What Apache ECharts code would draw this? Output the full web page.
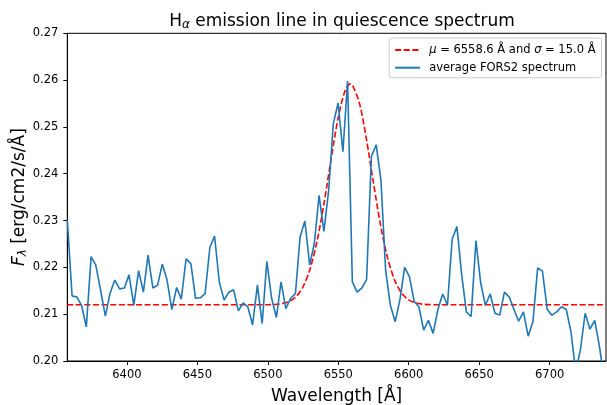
<!DOCTYPE html>
<html><head><meta charset="utf-8">
<script src="https://cdn.jsdelivr.net/npm/echarts@6/dist/echarts.min.js"></script>
<style>html,body{margin:0;padding:0;background:#fff}#c{width:607px;height:405px}</style>
</head><body><div id="c"></div>
<script>
const wavelength = [6357.7,6361.1,6364.4,6367.8,6371.2,6374.6,6377.9,6381.3,6384.7,6388.0,
6391.4,6394.8,6398.2,6401.5,6404.9,6408.3,6411.7,6415.0,6418.4,6421.8,
6425.1,6428.5,6431.9,6435.3,6438.6,6442.0,6445.4,6448.7,6452.1,6455.5,
6458.9,6462.2,6465.6,6469.0,6472.3,6475.7,6479.1,6482.5,6485.8,6489.2,
6492.6,6496.0,6499.3,6502.7,6506.1,6509.4,6512.8,6516.2,6519.6,6522.9,
6526.3,6529.7,6533.0,6536.4,6539.8,6543.2,6546.5,6549.9,6553.3,6556.6,
6560.0,6563.4,6566.8,6570.1,6573.5,6576.9,6580.3,6583.6,6587.0,6590.4,
6593.7,6597.1,6600.5,6603.9,6607.2,6610.6,6614.0,6617.3,6620.7,6624.1,
6627.5,6630.8,6634.2,6637.6,6640.9,6644.3,6647.7,6651.1,6654.4,6657.8,
6661.2,6664.6,6667.9,6671.3,6674.7,6678.0,6681.4,6684.8,6688.2,6691.5,
6694.9,6698.3,6701.6,6705.0,6708.4,6711.8,6715.1,6718.5,6721.9,6725.2,
6728.6,6732.0,6735.4,6738.7];
const fluxFORS2 = [0.2301,0.2139,0.2137,0.2119,0.2073,0.2223,0.2205,0.2152,0.2096,0.2144,
0.2173,0.2154,0.2156,0.2184,0.2119,0.2193,0.2147,0.2226,0.2156,0.2162,
0.2207,0.2173,0.2110,0.2157,0.2132,0.2218,0.2208,0.2134,0.2135,0.2144,
0.2243,0.2267,0.2168,0.2130,0.2147,0.2152,0.2107,0.2124,0.2116,0.2077,
0.2162,0.2080,0.2213,0.2134,0.2093,0.2169,0.2112,0.2134,0.2144,0.2265,
0.2299,0.2205,0.2251,0.2354,0.2277,0.2365,0.2507,0.2551,0.2447,0.2598,
0.2169,0.2147,0.2156,0.2174,0.2437,0.2462,0.2386,0.2194,0.2119,0.2084,
0.2130,0.2200,0.2180,0.2127,0.2116,0.2066,0.2087,0.2059,0.2110,0.2143,
0.2119,0.2260,0.2287,0.2184,0.2105,0.2095,0.2257,0.2166,0.2119,0.2143,
0.2102,0.2098,0.2147,0.2137,0.2110,0.2085,0.2105,0.2053,0.2085,0.2199,
0.2192,0.2110,0.2098,0.2105,0.2116,0.2110,0.2063,0.1977,0.2025,0.2102,
0.2068,0.2087,0.2030,0.1960];
const gaussWave = [6357.7,6490,6500,6505,6510,6515,6520,6525,6530,6535,6540,6545,6550,6555,6558.6,
6560,6565,6570,6575,6580,6585,6590,6595,6600,6605,6610,6615,6620,6630,6740];
const gaussFlux = [0.2120,0.2120,0.21202,0.21208,0.21225,0.21269,0.21372,0.21584,0.21967,0.22569,0.23388,0.24329,0.25204,0.25786,0.2592,
0.25899,0.25510,0.24736,0.23797,0.22906,0.22203,0.21728,0.21449,0.21305,0.21240,0.21213,0.21204,0.21201,0.2120,0.2120];
const xTicks = [6400,6450,6500,6550,6600,6650,6700];
const yTicks = [0.20,0.21,0.22,0.23,0.24,0.25,0.26,0.27];

const FONT = 'DejaVu Sans';
const BIG = 17, SMALL = 11.5;
const chart = echarts.init(document.getElementById('c'), null, {renderer:'canvas'});
chart.setOption({
  animation:false,
  backgroundColor:'#fff',
  title:{
    text:'{h|H}{s|α}{t| emission line in quiescence spectrum}',
    left:337, top:7, textAlign:'center',
    textStyle:{
      fontFamily:FONT, fontWeight:'normal', color:'#000', fontSize:BIG,
      rich:{
        h:{fontFamily:FONT,fontSize:BIG,color:'#000'},
        s:{fontFamily:FONT,fontSize:12,fontStyle:'italic',color:'#000',padding:[7,0,0,0]},
        t:{fontFamily:FONT,fontSize:BIG,color:'#000'}
      }
    }
  },
  legend:{
    orient:'vertical', right:5.5, top:38,
    padding:[6,6,4,5], itemWidth:25, itemHeight:14, itemGap:5.7,
    backgroundColor:'rgba(255,255,255,0.8)', borderColor:'#cccccc', borderWidth:1, borderRadius:3,
    itemStyle:{opacity:0, color:'rgba(0,0,0,0)', borderWidth:0},
    data:['gauss','spec'],
    formatter:function(n){
      if(n==='gauss') return '{p|}{i|μ}{r| = 6558.6 Å and }{i|σ}{r| = 15.0 Å}';
      return '{p|}{r|average FORS2 spectrum}';
    },
    textStyle:{fontFamily:FONT,fontSize:SMALL,color:'#000',
      rich:{p:{width:4},i:{fontFamily:FONT,fontSize:SMALL,fontStyle:'italic',color:'#000'},r:{fontFamily:FONT,fontSize:SMALL,color:'#000'}}}
  },
  grid:{left:67.3,right:1,top:33.3,bottom:44,outerBoundsMode:'none',containLabel:false,show:true,borderColor:'#000',borderWidth:1,backgroundColor:'transparent'},
  xAxis:{
    type:'value', min:6357.7, max:6740,
    name:'Wavelength [Å]', nameLocation:'middle', nameGap:27, nameMoveOverlap:false,
    nameTextStyle:{fontFamily:FONT,fontSize:BIG,color:'#000'},
    axisLine:{show:true,lineStyle:{color:'#000',width:1}},
    axisTick:{show:true,length:4,lineStyle:{color:'#000'},customValues:xTicks},
    axisLabel:{fontFamily:FONT,fontSize:SMALL,color:'#000',margin:8.5,customValues:xTicks,formatter:v=>String(v)},
    splitLine:{show:false}
  },
  yAxis:{
    type:'value', min:0.2, max:0.27, interval:0.01,
    name:'{f|F}{l|λ}{n| [erg/cm2/s/Å]}', nameLocation:'middle', nameGap:38, nameRotate:90, nameMoveOverlap:false,
    nameTextStyle:{fontFamily:FONT,fontSize:BIG,color:'#000',
      rich:{f:{fontFamily:FONT,fontSize:BIG,fontStyle:'italic',color:'#000'},
            l:{fontFamily:FONT,fontSize:12,fontStyle:'italic',color:'#000',padding:[7,0,0,0]},
            n:{fontFamily:FONT,fontSize:BIG,color:'#000'}}},
    axisLine:{show:true,lineStyle:{color:'#000',width:1}},
    axisTick:{show:true,length:4,lineStyle:{color:'#000'},customValues:yTicks},
    axisLabel:{fontFamily:FONT,fontSize:SMALL,color:'#000',margin:9,customValues:yTicks,formatter:v=>Number(v).toFixed(2)},
    splitLine:{show:false}
  },
  series:[
    {name:'gauss',type:'line',smooth:0.3,showSymbol:false,symbol:'none',
     data:gaussWave.map((w,i)=>[w,gaussFlux[i]]),
     lineStyle:{color:'#ff0000',width:1.6,type:[6,2.6]},itemStyle:{color:'#ff0000'},z:2},
    {name:'spec',type:'line',showSymbol:false,symbol:'none',
     data:wavelength.map((w,i)=>[w,fluxFORS2[i]]),
     lineStyle:{color:'#1f77b4',width:1.6},itemStyle:{color:'#1f77b4'},z:3}
  ]
});
</script></body></html>
